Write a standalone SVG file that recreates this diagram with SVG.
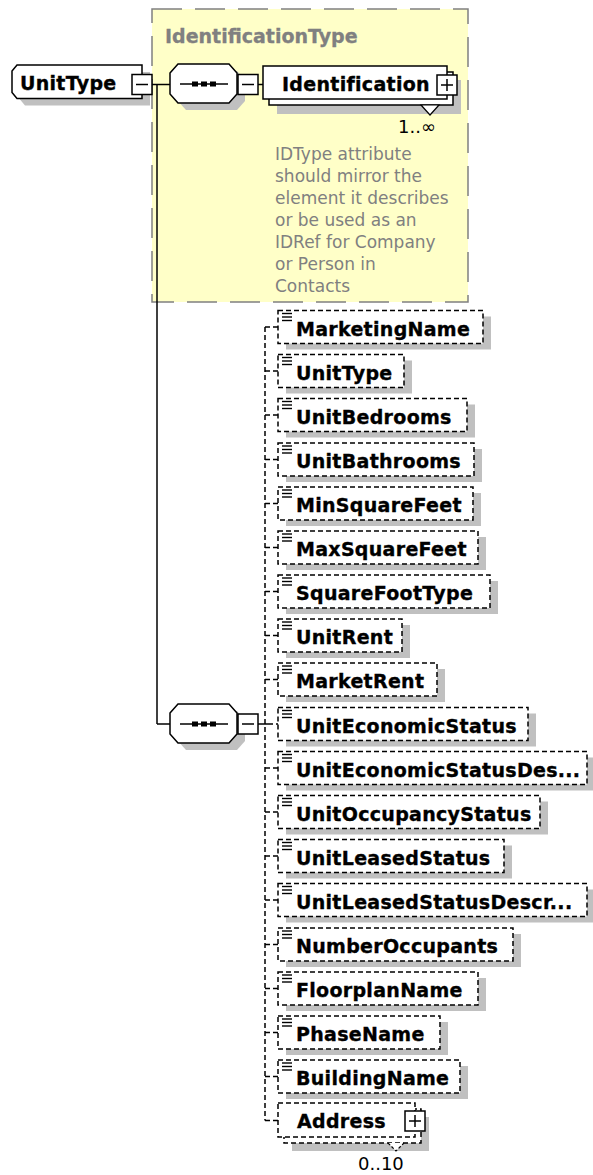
<svg xmlns="http://www.w3.org/2000/svg" width="593" height="1175" viewBox="0 0 593 1175">
<style>
.sh{fill:#c0c0c0}
.box{fill:#fff;stroke:#000;stroke-width:1.5}
.dbox{fill:#fff;stroke:#000;stroke-width:1.5;stroke-dasharray:5 3}
.lbl{font-family:"DejaVu Sans",Verdana,sans-serif;font-weight:bold;font-size:19px;fill:#000;stroke:#000;stroke-width:0.35;letter-spacing:0.3px}
.glbl{font-family:"DejaVu Sans",Verdana,sans-serif;font-weight:bold;font-size:19px;fill:#808080;stroke:#808080;stroke-width:0.3}
.doc{font-family:"DejaVu Sans",Verdana,sans-serif;font-size:17px;fill:#808080}
.occ{font-family:"DejaVu Sans",Verdana,sans-serif;font-size:18px;fill:#000}
.ln{stroke:#000;stroke-width:1.5;fill:none}
.dln{stroke:#000;stroke-width:1.5;fill:none;stroke-dasharray:5 3}
.ico{stroke:#000;stroke-width:1.4}
.dot{fill:#000}
</style>
<defs>
<g id="eq"><line class="ico" x1="0" y1="0" x2="10" y2="0"/><line class="ico" x1="0" y1="3.5" x2="10" y2="3.5"/><line class="ico" x1="0" y1="7" x2="10" y2="7"/></g>
<g id="seq"><polygon class="box" points="170,-11 178,-20 229,-20 237,-11 237,10 229,19 178,19 170,10"/><line class="ln" x1="180" y1="0" x2="228" y2="0"/><rect class="dot" x="192" y="-2.5" width="6" height="5"/><rect class="dot" x="201" y="-2.5" width="6" height="5"/><rect class="dot" x="210" y="-2.5" width="6" height="5"/></g>
<polygon id="seqsh" class="sh" points="178,-4 186,-13 237,-13 245,-4 245,17 237,26 186,26 178,17"/>
<g id="minus"><rect class="box" x="0" y="-10" width="20" height="20"/><line class="ln" x1="4" y1="0" x2="16" y2="0"/></g>
<g id="plus"><rect class="box" x="0" y="-10" width="20" height="20"/><line class="ln" x1="4" y1="0" x2="16" y2="0"/><line class="ln" x1="10" y1="-6" x2="10" y2="6"/></g>
</defs>

<g id="IdentificationType">
<rect x="152" y="9" width="316" height="293" fill="#FFFFC8" stroke="#808080" stroke-width="1.5" stroke-dasharray="30 13"/>
<text class="glbl" x="165" y="43">IdentificationType</text>
<text class="doc" x="275" y="159.5">IDType attribute</text>
<text class="doc" x="275" y="181.5">should mirror the</text>
<text class="doc" x="275" y="203.5">element it describes</text>
<text class="doc" x="275" y="225.5">or be used as an</text>
<text class="doc" x="275" y="247.5">IDRef for Company</text>
<text class="doc" x="275" y="269.5">or Person in</text>
<text class="doc" x="275" y="291.5">Contacts</text>
</g>

<g id="connectors">
<line class="ln" x1="151" y1="84.5" x2="170" y2="84.5"/>
<line class="ln" x1="157" y1="84.5" x2="157" y2="724"/>
<line class="ln" x1="157" y1="724" x2="170" y2="724"/>
<line class="ln" x1="258" y1="84.5" x2="263" y2="84.5"/>
<line class="ln" x1="258" y1="724" x2="268" y2="724"/>
<line class="dln" x1="265" y1="327" x2="265" y2="1120.5"/>
<g class="dln">
<line x1="265" y1="327" x2="278" y2="327"/>
<line x1="265" y1="371" x2="278" y2="371"/>
<line x1="265" y1="415" x2="278" y2="415"/>
<line x1="265" y1="459.5" x2="278" y2="459.5"/>
<line x1="265" y1="503.5" x2="278" y2="503.5"/>
<line x1="265" y1="547.5" x2="278" y2="547.5"/>
<line x1="265" y1="591.5" x2="278" y2="591.5"/>
<line x1="265" y1="635.5" x2="278" y2="635.5"/>
<line x1="265" y1="679.5" x2="278" y2="679.5"/>
<line x1="268" y1="724" x2="278" y2="724"/>
<line x1="265" y1="768" x2="278" y2="768"/>
<line x1="265" y1="812" x2="278" y2="812"/>
<line x1="265" y1="856" x2="278" y2="856"/>
<line x1="265" y1="900" x2="278" y2="900"/>
<line x1="265" y1="944.5" x2="278" y2="944.5"/>
<line x1="265" y1="988.5" x2="278" y2="988.5"/>
<line x1="265" y1="1032.5" x2="278" y2="1032.5"/>
<line x1="265" y1="1076.5" x2="278" y2="1076.5"/>
<line x1="265" y1="1120.5" x2="278" y2="1120.5"/>
</g>
</g>

<g id="root-UnitType">
<polygon class="sh" points="25,72 150,72 150,105.5 25,105.5 20,99.5 20,78"/>
<polygon class="box" points="17,65 142,65 142,98.5 17,98.5 12,92.5 12,71"/>
<text class="lbl" x="20" y="90">UnitType</text>
<use href="#minus" x="132" y="84.5"/>
</g>

<g id="sequence1">
<use href="#seqsh" x="0" y="84"/>
<use href="#seq" x="0" y="84"/>
<use href="#minus" x="238" y="84.5"/>
</g>

<g id="Identification">
<rect class="sh" x="277" y="80" width="184" height="34"/>
<rect class="box" x="269" y="72" width="184" height="33"/>
<rect class="box" x="263" y="66" width="184" height="33"/>
<polygon points="421,105 430,115 439,105" fill="#fff" stroke="#000" stroke-width="1.2"/>
<text class="lbl" x="282" y="91">Identification</text>
<use href="#plus" x="437" y="85"/>
<text class="occ" x="398" y="133">1..∞</text>
</g>

<g id="sequence2">
<use href="#seqsh" x="0" y="724"/>
<use href="#seq" x="0" y="724"/>
<use href="#minus" x="238" y="724"/>
</g>

<g id="MarketingName"><rect class="sh" x="286" y="316.5" width="205" height="33"/><rect class="dbox" x="278" y="310.5" width="205" height="33"/><use href="#eq" x="282" y="313.5"/><text class="lbl" x="296" y="335.5">MarketingName</text></g>
<g id="UnitType"><rect class="sh" x="286" y="360.5" width="126" height="33"/><rect class="dbox" x="278" y="354.5" width="126" height="33"/><use href="#eq" x="282" y="357.5"/><text class="lbl" x="296" y="379.5">UnitType</text></g>
<g id="UnitBedrooms"><rect class="sh" x="286" y="404.5" width="189" height="33"/><rect class="dbox" x="278" y="398.5" width="189" height="33"/><use href="#eq" x="282" y="401.5"/><text class="lbl" x="296" y="423.5">UnitBedrooms</text></g>
<g id="UnitBathrooms"><rect class="sh" x="286" y="449" width="196" height="33"/><rect class="dbox" x="278" y="443" width="196" height="33"/><use href="#eq" x="282" y="446"/><text class="lbl" x="296" y="468">UnitBathrooms</text></g>
<g id="MinSquareFeet"><rect class="sh" x="286" y="493" width="195" height="33"/><rect class="dbox" x="278" y="487" width="195" height="33"/><use href="#eq" x="282" y="490"/><text class="lbl" x="296" y="512">MinSquareFeet</text></g>
<g id="MaxSquareFeet"><rect class="sh" x="286" y="537" width="200" height="33"/><rect class="dbox" x="278" y="531" width="200" height="33"/><use href="#eq" x="282" y="534"/><text class="lbl" x="296" y="556">MaxSquareFeet</text></g>
<g id="SquareFootType"><rect class="sh" x="286" y="581" width="212" height="33"/><rect class="dbox" x="278" y="575" width="212" height="33"/><use href="#eq" x="282" y="578"/><text class="lbl" x="296" y="600">SquareFootType</text></g>
<g id="UnitRent"><rect class="sh" x="286" y="625" width="124" height="33"/><rect class="dbox" x="278" y="619" width="124" height="33"/><use href="#eq" x="282" y="622"/><text class="lbl" x="296" y="644">UnitRent</text></g>
<g id="MarketRent"><rect class="sh" x="286" y="669" width="159" height="33"/><rect class="dbox" x="278" y="663" width="159" height="33"/><use href="#eq" x="282" y="666"/><text class="lbl" x="296" y="688">MarketRent</text></g>
<g id="UnitEconomicStatus"><rect class="sh" x="286" y="713.5" width="250" height="33"/><rect class="dbox" x="278" y="707.5" width="250" height="33"/><use href="#eq" x="282" y="710.5"/><text class="lbl" x="296" y="732.5">UnitEconomicStatus</text></g>
<g id="UnitEconomicStatusDescription"><rect class="sh" x="286" y="757.5" width="309" height="33"/><rect class="dbox" x="278" y="751.5" width="309" height="33"/><use href="#eq" x="282" y="754.5"/><text class="lbl" x="296" y="776.5">UnitEconomicStatusDes...</text></g>
<g id="UnitOccupancyStatus"><rect class="sh" x="286" y="801.5" width="262" height="33"/><rect class="dbox" x="278" y="795.5" width="262" height="33"/><use href="#eq" x="282" y="798.5"/><text class="lbl" x="296" y="820.5">UnitOccupancyStatus</text></g>
<g id="UnitLeasedStatus"><rect class="sh" x="286" y="845.5" width="226" height="33"/><rect class="dbox" x="278" y="839.5" width="226" height="33"/><use href="#eq" x="282" y="842.5"/><text class="lbl" x="296" y="864.5">UnitLeasedStatus</text></g>
<g id="UnitLeasedStatusDescription"><rect class="sh" x="286" y="889.5" width="309" height="33"/><rect class="dbox" x="278" y="883.5" width="309" height="33"/><use href="#eq" x="282" y="886.5"/><text class="lbl" x="296" y="908.5">UnitLeasedStatusDescr...</text></g>
<g id="NumberOccupants"><rect class="sh" x="286" y="934" width="235" height="33"/><rect class="dbox" x="278" y="928" width="235" height="33"/><use href="#eq" x="282" y="931"/><text class="lbl" x="296" y="953">NumberOccupants</text></g>
<g id="FloorplanName"><rect class="sh" x="286" y="978" width="200" height="33"/><rect class="dbox" x="278" y="972" width="200" height="33"/><use href="#eq" x="282" y="975"/><text class="lbl" x="296" y="997">FloorplanName</text></g>
<g id="PhaseName"><rect class="sh" x="286" y="1022" width="162" height="33"/><rect class="dbox" x="278" y="1016" width="162" height="33"/><use href="#eq" x="282" y="1019"/><text class="lbl" x="296" y="1041">PhaseName</text></g>
<g id="BuildingName"><rect class="sh" x="286" y="1066" width="182" height="33"/><rect class="dbox" x="278" y="1060" width="182" height="33"/><use href="#eq" x="282" y="1063"/><text class="lbl" x="296" y="1085">BuildingName</text></g>
<g id="Address">
<rect class="sh" x="292" y="1117" width="137" height="34"/>
<rect class="dbox" x="284" y="1109" width="137" height="34"/>
<rect class="dbox" x="278" y="1103" width="137" height="34"/>
<polyline points="388,1143 396,1151 404,1143" fill="#fff" stroke="#000" stroke-width="1.2" stroke-dasharray="3 2"/>
<text class="lbl" x="297" y="1128">Address</text>
<use href="#plus" x="405" y="1121"/>
<text class="occ" x="358" y="1170">0..10</text>
</g>
</svg>
